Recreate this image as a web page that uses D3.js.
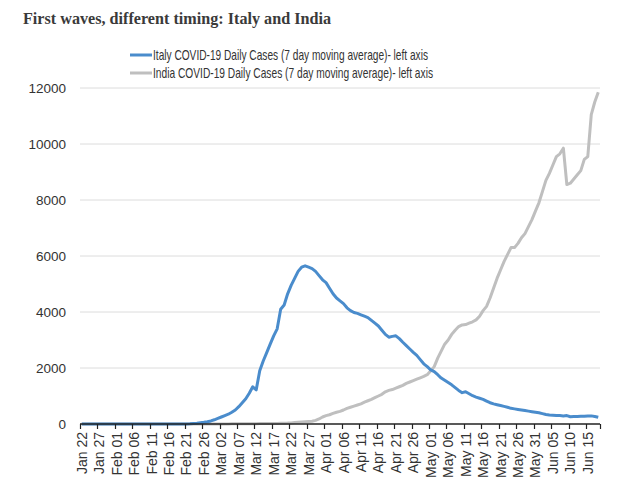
<!DOCTYPE html>
<html>
<head>
<meta charset="utf-8">
<script src="https://cdn.jsdelivr.net/npm/d3@7"></script>
<style>
  html, body { margin: 0; padding: 0; background: #fff; }
  svg { display: block; }
</style>
</head>
<body>
<svg id="chart" width="630" height="499"></svg>
<script>
// ---------- DATA ----------
const startDate = "2020-01-22";
const dayCount = 149; // Jan 22 .. Jun 18

const tickLabels = ["Jan 22","Jan 27","Feb 01","Feb 06","Feb 11","Feb 16","Feb 21","Feb 26",
  "Mar 02","Mar 07","Mar 12","Mar 17","Mar 22","Mar 27","Apr 01","Apr 06","Apr 11","Apr 16",
  "Apr 21","Apr 26","May 01","May 06","May 11","May 16","May 21","May 26","May 31","Jun 05",
  "Jun 10","Jun 15"];

const yTicks = [0, 2000, 4000, 6000, 8000, 10000, 12000];

const seriesNames = [
  "Italy COVID-19 Daily Cases (7 day moving average)- left axis",
  "India COVID-19 Daily Cases (7 day moving average)- left axis"
];

// Italy, daily values from Jan 22
const italy = [
  0,0,0,0,0,0,0,0,0,0,
  0,0,0,0,0,0,0,0,0,0,
  0,0,0,0,0,0,0,0,0,0,
  3,10,20,30,45,60,80,110,150,200,
  250,300,350,420,500,620,760,900,1100,1330,
  1220,1900,2250,2550,2850,3150,3400,4100,4250,4650,
  4950,5200,5450,5600,5650,5600,5550,5450,5300,5150,
  5050,4850,4650,4500,4400,4300,4150,4050,3980,3950,
  3900,3850,3800,3700,3600,3500,3350,3200,3100,3130,
  3150,3050,2920,2800,2680,2560,2450,2300,2150,2050,
  1930,1870,1760,1640,1560,1480,1400,1300,1200,1120,
  1150,1080,1010,960,920,880,820,760,720,690,
  660,630,600,560,540,520,500,480,460,440,
  420,400,370,340,320,310,300,300,290,300,
  260,270,270,280,280,290,290,270,240
];

// India, daily values from Jan 22
const india = [
  0,0,0,0,0,0,0,0,0,0,
  0,0,0,0,0,0,0,0,0,0,
  0,0,0,0,0,0,0,0,0,0,
  0,0,0,0,0,0,0,0,0,0,
  2,3,4,5,6,7,8,10,11,12,
  13,14,15,16,18,15,20,25,28,32,
  40,50,60,70,80,90,100,130,180,250,
  300,330,380,420,450,500,560,600,640,680,
  720,780,830,880,940,1000,1060,1150,1200,1230,
  1280,1330,1380,1450,1500,1550,1600,1650,1700,1760,
  1900,2050,2350,2600,2850,3000,3200,3350,3480,3540,
  3550,3600,3650,3720,3850,4050,4200,4500,4850,5200,
  5500,5800,6050,6300,6300,6450,6650,6800,7050,7300,
  7600,7900,8300,8700,8950,9250,9550,9650,9850,8550,
  8600,8750,8900,9050,9450,9550,11050,11500,11850
];

const colors = ["#4a8ccc", "#bfbfbf"];

// ---------- CHART ----------
const svg = d3.select("#chart");
const mLeft = 80, mRight = 600, mTop = 88, mBottom = 424;

const x = d3.scaleLinear().domain([-0.5, dayCount - 0.5]).range([mLeft, mRight]);
const y = d3.scaleLinear().domain([0, 12000]).range([mBottom, mTop]);

// title
svg.append("text")
  .attr("x", 23).attr("y", 24)
  .attr("font-family", "'Liberation Serif', 'DejaVu Serif', serif")
  .attr("font-weight", "bold")
  .attr("font-size", 17.5)
  .attr("fill", "#3a3a3a")
  .attr("textLength", 308)
  .attr("lengthAdjust", "spacingAndGlyphs")
  .text("First waves, different timing: Italy and India");

// gridlines
svg.append("g")
  .selectAll("line")
  .data(yTicks.filter(d => d > 0))
  .join("line")
  .attr("x1", mLeft).attr("x2", mRight)
  .attr("y1", d => y(d)).attr("y2", d => y(d))
  .attr("stroke", "#dcdcdc").attr("stroke-width", 1);

// y axis labels
const yAxis = d3.axisLeft(y).tickValues(yTicks).tickSize(0).tickPadding(14)
  .tickFormat(d3.format("d"));
const gy = svg.append("g").attr("transform", `translate(${mLeft},0)`).call(yAxis);
gy.select(".domain").remove();
gy.selectAll("text")
  .attr("font-family", "'Liberation Sans', Arial, sans-serif")
  .attr("font-size", 13.5)
  .attr("fill", "#333");

// lines
const line = d3.line().x((d, i) => x(i)).y(d => y(d)).curve(d3.curveLinear);
const series = [india, italy];
const seriesColors = [colors[1], colors[0]];
svg.append("g")
  .selectAll("path")
  .data(series)
  .join("path")
  .attr("d", d => line(d))
  .attr("fill", "none")
  .attr("stroke", (d, i) => seriesColors[i])
  .attr("stroke-width", 3)
  .attr("stroke-linejoin", "round");

// x axis
const tickIdx = tickLabels.map((_, i) => i * 5);
const xAxisG = svg.append("g");
xAxisG.append("line")
  .attr("x1", mLeft).attr("x2", mRight)
  .attr("y1", mBottom).attr("y2", mBottom)
  .attr("stroke", "#222").attr("stroke-width", 1.3);
const boundaries = tickIdx.map(i => i - 0.5).concat([dayCount - 0.5]);
xAxisG.selectAll("line.tick")
  .data(boundaries)
  .join("line")
  .attr("class", "tick")
  .attr("x1", d => Math.round(x(d)) + 0.5).attr("x2", d => Math.round(x(d)) + 0.5)
  .attr("y1", mBottom).attr("y2", mBottom + 5)
  .attr("stroke", "#222").attr("stroke-width", 1.2);
xAxisG.selectAll("text")
  .data(tickLabels)
  .join("text")
  .attr("transform", (d, i) => `translate(${x(tickIdx[i])},${mBottom + 8}) rotate(-90)`)
  .attr("text-anchor", "end")
  .attr("dy", "0.36em")
  .attr("font-family", "'Liberation Sans', Arial, sans-serif")
  .attr("font-size", 14)
  .attr("fill", "#333")
  .text(d => d);

// legend
const legendY = [55, 73];
const legendLen = [275, 280];
const leg = svg.append("g");
seriesNames.forEach((name, i) => {
  leg.append("line")
    .attr("x1", 130).attr("x2", 152)
    .attr("y1", legendY[i]).attr("y2", legendY[i])
    .attr("stroke", colors[i]).attr("stroke-width", 3);
  leg.append("text")
    .attr("x", 153).attr("y", legendY[i])
    .attr("dy", "0.35em")
    .attr("font-family", "'Liberation Sans Narrow', 'Liberation Sans', Arial, sans-serif")
    .attr("font-size", 14.5)
    .attr("fill", "#333")
    .attr("textLength", legendLen[i])
    .attr("lengthAdjust", "spacingAndGlyphs")
    .text(name);
});
</script>
</body>
</html>
